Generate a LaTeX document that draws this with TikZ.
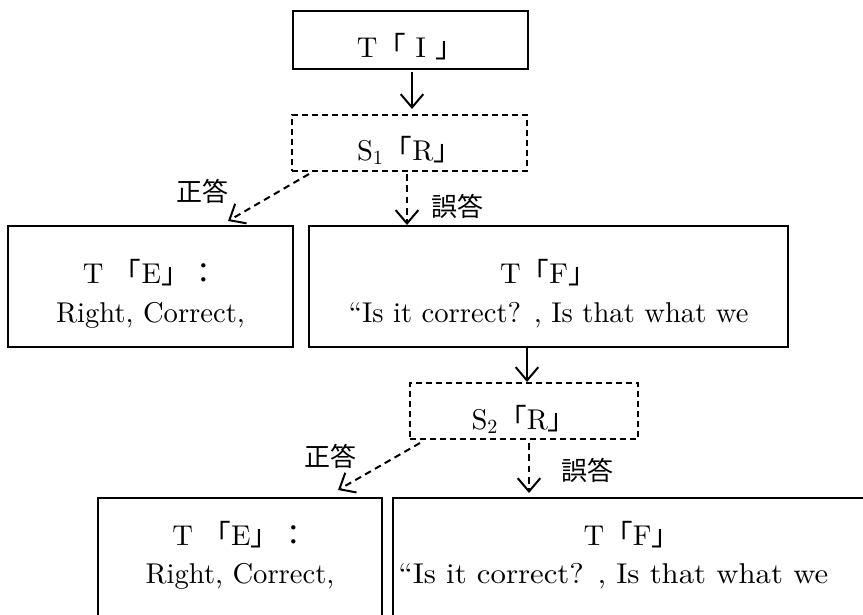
\documentclass[tikz,border=0pt]{standalone}
\usepackage{fontspec}
\usepackage{graphicx}
\setmainfont{lmroman10-regular.otf}
\newfontfamily\jp{Noto Sans CJK JP}
\usetikzlibrary{arrows.meta,calc}
\newcommand{\lb}{{\jp 「}}
\newcommand{\rb}{{\jp 」}}
\begin{document}
\begin{tikzpicture}[x=0.75pt,y=-0.75pt,
  font=\fontsize{21.45}{26}\selectfont,
  box/.style={draw, line width=1.4pt, inner sep=0pt, outer sep=0pt},
  dbox/.style={draw, line width=1.2pt, dash pattern=on 4.5pt off 3pt, inner sep=0pt, outer sep=0pt},
  txt/.style={anchor=base, inner sep=0pt},
  lbl/.style={font=\jp\fontsize{19.5}{22}\selectfont, inner sep=0pt},
  arr/.style={line width=1.5pt, -{Straight Barb[length=10pt,width=17pt,line width=1.5pt]}},
  darr/.style={arr, dash pattern=on 5pt off 3.5pt}]
\useasboundingbox (0,0) rectangle (863,614);
\clip (0,0) rectangle (863,614);
\fill[white] (0,0) rectangle (863,614);
% boxes
\node[box, minimum width=176.25pt, minimum height=43.5pt] (top) at (410.5,40) {};
\node[dbox, minimum width=176.25pt, minimum height=42pt] (s1) at (409.5,143) {};
\node[box, minimum width=213.75pt, minimum height=90.75pt] (eL) at (150.5,286.5) {};
\node[box, minimum width=359.25pt, minimum height=90.75pt] (fR) at (548.5,286.5) {};
\node[dbox, minimum width=171pt, minimum height=42pt] (s2) at (524,411) {};
\node[box, minimum width=213pt, minimum height=106.5pt] (eL2) at (240,569) {};
\node[box, minimum width=365.25pt, minimum height=106.5pt] (fR2) at (636.5,569) {};
% texts
\node[txt] (ttop) at (410.5,57) {T\lb~I~\rb};
\node[txt] (ts1) at (409.5,160) {S\textsubscript{1}\lb R\rb};
\node[txt] (ts2) at (524,429) {S\textsubscript{2}\lb R\rb};
\node[txt] (eLa) at (150.5,283) {T\ \lb E\rb{\jp ：}};
\node[txt] (eLb) at (150.5,322) {Right, Correct,};
\node[txt] (fRa) at (548.5,283) {T\lb F\rb};
\node[txt] (fRb) at (548.5,322) {``Is it correct? , Is that what we};
\node[txt] (eL2a) at (240,545) {T\ \lb E\rb{\jp ：}};
\node[txt] (eL2b) at (240,583) {Right, Correct,};
\node[txt] (fR2a) at (632,545) {T\lb F\rb};
\node[txt, anchor=base west] (fR2b) at (398,583) {\scalebox{1.075}[1]{``Is it correct? , Is that what we}};
% labels
\node[lbl] (c1) at (202,191) {正答};
\node[lbl] (w1) at (457,206) {誤答};
\node[lbl] (c2) at (330,456) {正答};
\node[lbl] (w2) at (587,470) {誤答};
% arrows
\draw[arr] ($(top.south)+(1.5,3)$) -- ($(top.south |- s1.north)+(1.5,-6)$);
\draw[arr] ($(s2.north |- fR.south)+(3,1)$) -- ($(s2.north)+(3,-1)$);
\draw[darr] ($(s1.south west)+(17,3)$) -- ($(eL.north east)+(-65,-5)$);
\draw[darr] ($(s1.south)+(-2.5,3)$) -- ($(s1.south |- fR.north)+(-2.5,-1)$);
\draw[darr] ($(s2.south west)+(10,4)$) -- ($(eL2.north east)+(-44,-8)$);
\draw[darr] ($(s2.south)+(5,4)$) -- ($(s2.south |- fR2.north)+(5,-5)$);
\end{tikzpicture}
\end{document}
